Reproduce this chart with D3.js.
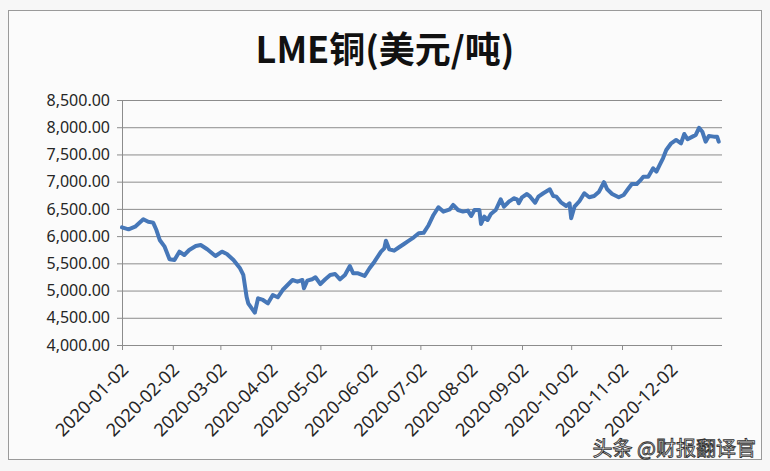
<!DOCTYPE html>
<html>
<head>
<meta charset="utf-8">
<script src="https://cdn.jsdelivr.net/npm/d3@7"></script>
<style>
  body { margin: 0; background: #f7f7f7; }
  text { font-family: "Noto Sans", "Noto Sans CJK SC", sans-serif; }
</style>
</head>
<body>
<svg id="chart" width="770" height="471"></svg>
<script>
// LME copper daily price (USD/t)
var dates = ["2020-01-02","2020-01-06","2020-01-10","2020-01-15","2020-01-18","2020-01-21","2020-01-23","2020-01-25","2020-01-28","2020-01-31",
  "2020-02-03","2020-02-06","2020-02-09","2020-02-12","2020-02-16","2020-02-19","2020-02-23","2020-02-28",
  "2020-03-03","2020-03-06","2020-03-10","2020-03-14","2020-03-16","2020-03-18","2020-03-19","2020-03-23","2020-03-25","2020-03-28","2020-03-31",
  "2020-04-03","2020-04-06","2020-04-09","2020-04-12","2020-04-15","2020-04-18","2020-04-21","2020-04-22","2020-04-24","2020-04-27","2020-04-29",
  "2020-05-02","2020-05-05","2020-05-08","2020-05-11","2020-05-14","2020-05-17","2020-05-20","2020-05-22","2020-05-25","2020-05-29",
  "2020-06-01","2020-06-04","2020-06-06","2020-06-08","2020-06-10","2020-06-11","2020-06-13","2020-06-16","2020-06-19","2020-06-22","2020-06-25","2020-06-28",
  "2020-07-01","2020-07-04","2020-07-07","2020-07-10","2020-07-13","2020-07-16","2020-07-20","2020-07-22","2020-07-25","2020-07-28","2020-07-31",
  "2020-08-02","2020-08-04","2020-08-07","2020-08-08","2020-08-10","2020-08-12","2020-08-14","2020-08-17","2020-08-20","2020-08-22","2020-08-25","2020-08-28","2020-08-30","2020-08-31",
  "2020-09-02","2020-09-05","2020-09-07","2020-09-10","2020-09-12","2020-09-15","2020-09-19","2020-09-21","2020-09-23","2020-09-26","2020-09-29",
  "2020-10-01","2020-10-02","2020-10-04","2020-10-07","2020-10-10","2020-10-13","2020-10-16","2020-10-19","2020-10-22","2020-10-24","2020-10-27","2020-10-31",
  "2020-11-03","2020-11-06","2020-11-08","2020-11-11","2020-11-13","2020-11-15","2020-11-18","2020-11-21","2020-11-23","2020-11-25","2020-11-27","2020-11-29",
  "2020-12-02","2020-12-05","2020-12-08","2020-12-10","2020-12-12","2020-12-15","2020-12-17","2020-12-19","2020-12-21","2020-12-23","2020-12-25","2020-12-28","2020-12-30","2020-12-31"];

var prices = [6160,6125,6173,6310,6265,6247,6112,5929,5806,5574,
  5561,5714,5653,5745,5818,5837,5758,5635,
  5714,5672,5561,5409,5286,4887,4766,4593,4858,4827,4766,
  4918,4876,5010,5102,5194,5163,5194,5041,5181,5207,5244,
  5120,5207,5286,5304,5207,5286,5451,5317,5317,5268,
  5409,5530,5622,5714,5776,5916,5758,5733,5795,5855,5916,5978,
  6052,6060,6200,6388,6530,6450,6493,6572,6480,6450,6468,
  6370,6480,6480,6223,6357,6296,6406,6480,6676,6540,6632,6695,6676,6603,
  6713,6774,6725,6614,6725,6787,6860,6737,6725,6614,6553,
  6603,6327,6540,6640,6787,6713,6737,6817,6990,6860,6774,6713,
  6756,6878,6957,6957,7018,7092,7092,7246,7184,7307,7430,7582,
  7705,7766,7705,7876,7779,7827,7858,7990,7918,7735,7840,7827,7827,7735];

var xTicks = ["2020-01-02","2020-02-02","2020-03-02","2020-04-02","2020-05-02","2020-06-02",
  "2020-07-02","2020-08-02","2020-09-02","2020-10-02","2020-11-02","2020-12-02"];
var yTicks = [4000,4500,5000,5500,6000,6500,7000,7500,8000,8500];

var parse = d3.timeParse("%Y-%m-%d");
var data = dates.map(function(d, i) { return {date: parse(d), value: prices[i]}; });

var svg = d3.select("#chart");

// chart frame
svg.append("rect").attr("x", 8.5).attr("y", 10.5).attr("width", 753).attr("height", 449)
  .style("fill", "#fbfbfb").style("stroke", "#9a9a9a");

var x = d3.scaleTime().domain([parse("2020-01-02"), parse("2021-01-02")]).range([122, 722]);
var y = d3.scaleLinear().domain([4000, 8500]).range([345, 100]);

// gridlines
svg.append("g").attr("transform", "translate(122,0)")
  .call(d3.axisLeft(y).tickValues(yTicks).tickSize(-600).tickFormat(""))
  .call(function(g) { g.select(".domain").remove(); })
  .selectAll("line").style("stroke", "#8c8c8c");

// y axis
var yAxis = svg.append("g").attr("transform", "translate(122,0)")
  .call(d3.axisLeft(y).tickValues(yTicks).tickSize(5).tickPadding(7).tickFormat(d3.format(",.2f")));
yAxis.select(".domain").style("stroke", "#8c8c8c");
yAxis.selectAll("line").style("stroke", "#8c8c8c");
yAxis.selectAll("text").style("font-size", "16px").style("fill", "#262626");

// x axis
var xAxis = svg.append("g").attr("transform", "translate(0,345)")
  .call(d3.axisBottom(x).tickValues(xTicks.map(parse)).tickSize(5).tickFormat(d3.timeFormat("%Y-%m-%d")));
xAxis.select(".domain").attr("d", "M117,0.5H722").style("stroke", "#8c8c8c");
xAxis.selectAll("line").style("stroke", "#8c8c8c");
xAxis.selectAll("text")
  .attr("x", 0).attr("y", 0).attr("dy", 0)
  .attr("text-anchor", "end")
  .attr("transform", "translate(7,26) rotate(-45)")
  .style("font-size", "18px").style("fill", "#262626");

// price line
var line = d3.line().x(function(d) { return x(d.date); }).y(function(d) { return y(d.value); });
svg.append("path").datum(data).attr("d", line)
  .style("fill", "none").style("stroke", "#4677b8").style("stroke-width", 4)
  .style("stroke-linejoin", "round").style("stroke-linecap", "round");

// title
svg.append("text").attr("x", 385).attr("y", 63).attr("text-anchor", "middle")
  .text("LME铜(美元/吨)")
  .style("font-family", "'Noto Sans CJK SC', sans-serif").style("font-weight", "bold")
  .style("font-size", "36px").style("fill", "#111");

// watermark
svg.append("text").attr("x", 756).attr("y", 456).attr("text-anchor", "end")
  .text("头条 @财报翻译官")
  .style("font-family", "'Noto Sans CJK SC', sans-serif").style("font-size", "20px")
  .style("fill", "#fff").style("stroke", "#333").style("stroke-width", 0.9);
</script>
</body>
</html>
